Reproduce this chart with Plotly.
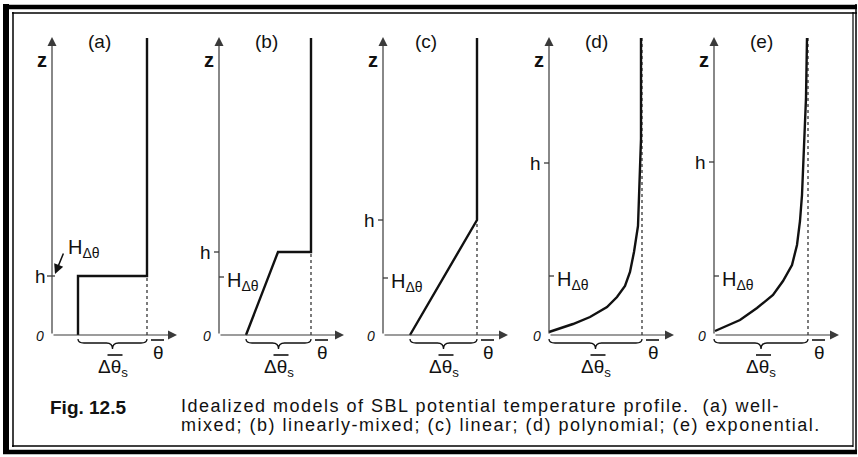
import plotly.graph_objects as go

W, H = 858, 457
FONT = "Liberation Sans, Arial, Helvetica, sans-serif"
INK = "#111111"
AXIS_INK = "#3a3a3a"

# ---- data: five idealized SBL potential-temperature profiles -------------
panel_titles = ["(a)", "(b)", "(c)", "(d)", "(e)"]

# theta (relative to the value at the z-axis) and height for each model
theta_a = [95, 95, 26, 26]
z_a = [297, 59, 59, 0]

theta_b = [92, 92, 59, 27]
z_b = [297, 83, 83, 0]

theta_c = [94, 94, 27]
z_c = [297, 115, 0]

theta_d = [0, 24, 41, 58, 68, 76, 81, 85, 89, 90, 91, 92, 92]
z_d = [3, 11, 18, 28, 38, 49, 63, 83, 109, 139, 163, 196, 297]

theta_e = [1, 26, 43, 59, 69, 78, 83, 86, 88, 89, 90, 92, 93]
z_e = [4, 15, 27, 40, 54, 70, 90, 114, 140, 164, 197, 237, 297]

profiles_theta = [theta_a, theta_b, theta_c, theta_d, theta_e]
profiles_z = [z_a, z_b, z_c, z_d, z_e]

# surface value and residual-layer value (ends of the delta-theta_s brace)
theta_surface = [26, 27, 27, 0, 0]
theta_top = [95, 92, 94, 93, 94]
# height reached by the dotted reference line above the surface
dotted_top = [59, 83, 115, 297, 297]
# SBL depth h and the e-folding / scale height H_dtheta
h_levels = [59, 83, 115, 172, 173]
H_levels = [59, 58, 57, 59, 59]

caption_head = "Fig. 12.5"
caption_lines = [
    "Idealized models of SBL potential temperature profile.\u00a0 (a) well-",
    "mixed; (b) linearly-mixed; (c) linear; (d) polynomial; (e) exponential.",
]

# ---- layout constants ------------------------------------------------------
axis_x = [52, 219, 383, 549, 714]   # left edge of each panel's z-axis (px)
AX_Y = 335                           # row of the theta axes (px)
Z_TIP = 298
TH_TIP = 125
THETA_Y = -17        # centre of the theta-bar axis label
DELTA_Y = -33        # centre of the delta-theta_s label


def px(x):
    return x / W


def py(y):
    return 1 - y / H


def brace_path(x1, x2, y_end=-4, y_line=-8, y_tip=-14, r=6):
    xm = (x1 + x2) / 2
    return (f"M{x1},{y_end} Q{x1},{y_line} {x1 + r},{y_line} "
            f"L{xm - r},{y_line} Q{xm},{y_line} {xm},{y_tip} "
            f"Q{xm},{y_line} {xm + r},{y_line} L{x2 - r},{y_line} "
            f"Q{x2},{y_line} {x2},{y_end}")


fig = go.Figure()
annotations = []
shapes = []

layout_axes = {}
layout_axes["yaxis"] = dict(domain=[py(AX_Y + 45), py(AX_Y - 305)],
                            range=[-45, 305], visible=False, fixedrange=True)

for i in range(5):
    n = i + 1
    xa = "x" if n == 1 else f"x{n}"
    x0 = axis_x[i]
    layout_axes["xaxis" if n == 1 else f"xaxis{n}"] = dict(
        domain=[px(x0 - 40), px(x0 + 140)], range=[-40, 140],
        anchor="y", visible=False, fixedrange=True)

    # profile
    fig.add_trace(go.Scatter(x=profiles_theta[i], y=profiles_z[i], mode="lines",
                             line=dict(color=INK, width=2.4),
                             xaxis=xa, yaxis="y", hoverinfo="skip"))
    # dotted reference line at the residual-layer temperature
    fig.add_trace(go.Scatter(x=[theta_top[i], theta_top[i]], y=[0, dotted_top[i]],
                             mode="lines", line=dict(color=INK, width=1.1, dash="dot"),
                             xaxis=xa, yaxis="y", hoverinfo="skip"))
    # tick marks for h (left) and H (right)
    tx = [-5, 3 if i == 0 else 0, None]
    ty = [h_levels[i], h_levels[i], None]
    if i > 0:
        tx += [0, 5]
        ty += [H_levels[i], H_levels[i]]
    fig.add_trace(go.Scatter(x=tx, y=ty, mode="lines",
                             line=dict(color=AXIS_INK, width=1.3),
                             xaxis=xa, yaxis="y", hoverinfo="skip"))

    # axes drawn as arrows
    for (hx, hy) in [(0, Z_TIP), (TH_TIP, 0)]:
        annotations.append(dict(x=hx, y=hy, ax=0, ay=0, xref=xa, yref="y",
                                axref=xa, ayref="y", text="", showarrow=True,
                                arrowhead=2, arrowsize=1.5, arrowwidth=1.2,
                                arrowcolor=AXIS_INK))

    def label(x, y, text, size, **kw):
        d = dict(x=x, y=y, xref=xa, yref="y", text=text, showarrow=False,
                 font=dict(family=FONT, size=size, color=INK))
        d.update(kw)
        annotations.append(d)

    def overbar(xc, yb, half_left, half_right):
        shapes.append(dict(type="line", xref=xa, yref="y",
                           x0=xc - half_left, x1=xc + half_right, y0=yb, y1=yb,
                           line=dict(color=INK, width=1.6)))

    label(47 if i != 2 else 43, 294, panel_titles[i], 19)
    label(-10, 275, "<b>z</b>", 20)
    label(-14 if i else -12, h_levels[i], "h", 19)
    label(-12, -1, "<i>0</i>", 14)

    # theta-bar at the end of the theta axis
    tx_lab = theta_top[i] + 11
    label(tx_lab, THETA_Y, "\u03b8", 19)
    overbar(tx_lab, THETA_Y + 12, 7, 6)

    # delta theta-bar_s under the brace
    mid = (theta_surface[i] + theta_top[i]) / 2
    label(mid, DELTA_Y, "\u0394\u03b8<sub>s</sub>", 19)
    overbar(mid, DELTA_Y + 13, 5, 10)

    if i == 0:
        label(14, 87, "H<sub>\u0394\u03b8</sub>", 20, xanchor="left")
        annotations.append(dict(x=3, y=61, ax=12, ay=83, xref=xa, yref="y",
                                axref=xa, ayref="y", text="", showarrow=True,
                                arrowhead=2, arrowsize=1.3, arrowwidth=1.5,
                                arrowcolor=INK))
    else:
        label(6, H_levels[i] - 4, "H<sub>\u0394\u03b8</sub>", 20, xanchor="left")

    shapes.append(dict(type="path", xref=xa, yref="y",
                       path=brace_path(theta_surface[i], theta_top[i]),
                       line=dict(color=INK, width=1.3)))

# caption
annotations.append(dict(x=px(48), y=py(407), xref="paper", yref="paper",
                        xanchor="left", yanchor="middle", showarrow=False,
                        text="<b>" + caption_head + "</b>",
                        font=dict(family=FONT, size=19, color=INK)))
for k, line in enumerate(caption_lines):
    annotations.append(dict(x=px(180), y=py(406 + 19 * k), xref="paper",
                            yref="paper", xanchor="left", yanchor="middle",
                            showarrow=False, borderpad=0,
                            text='<span style="letter-spacing:1.5px">' + line + "</span>",
                            font=dict(family=FONT, size=18, color=INK)))

# double-ruled frame
frame = [
    # outer heavy rule
    (3, 7, 857, 7, 4.5), (6, 4, 6, 454, 6), (3, 452, 857, 452, 4.5),
    (856, 4, 856, 454, 1.5),
    # inner hairline
    (12, 13, 857, 13, 1.5), (13, 12, 13, 447, 1.5), (12, 446, 853, 446, 1.5),
    (853, 12, 853, 447, 1.2),
]
for (xa0, ya0, xa1, ya1, w) in frame:
    shapes.append(dict(type="line", xref="paper", yref="paper",
                       x0=px(xa0), y0=py(ya0), x1=px(xa1), y1=py(ya1),
                       line=dict(color="#000", width=w)))

fig.update_layout(
    width=W, height=H, margin=dict(l=0, r=0, t=0, b=0),
    paper_bgcolor="white", plot_bgcolor="rgba(0,0,0,0)",
    showlegend=False, annotations=annotations, shapes=shapes,
    **layout_axes,
)

fig.write_html("out.html")
